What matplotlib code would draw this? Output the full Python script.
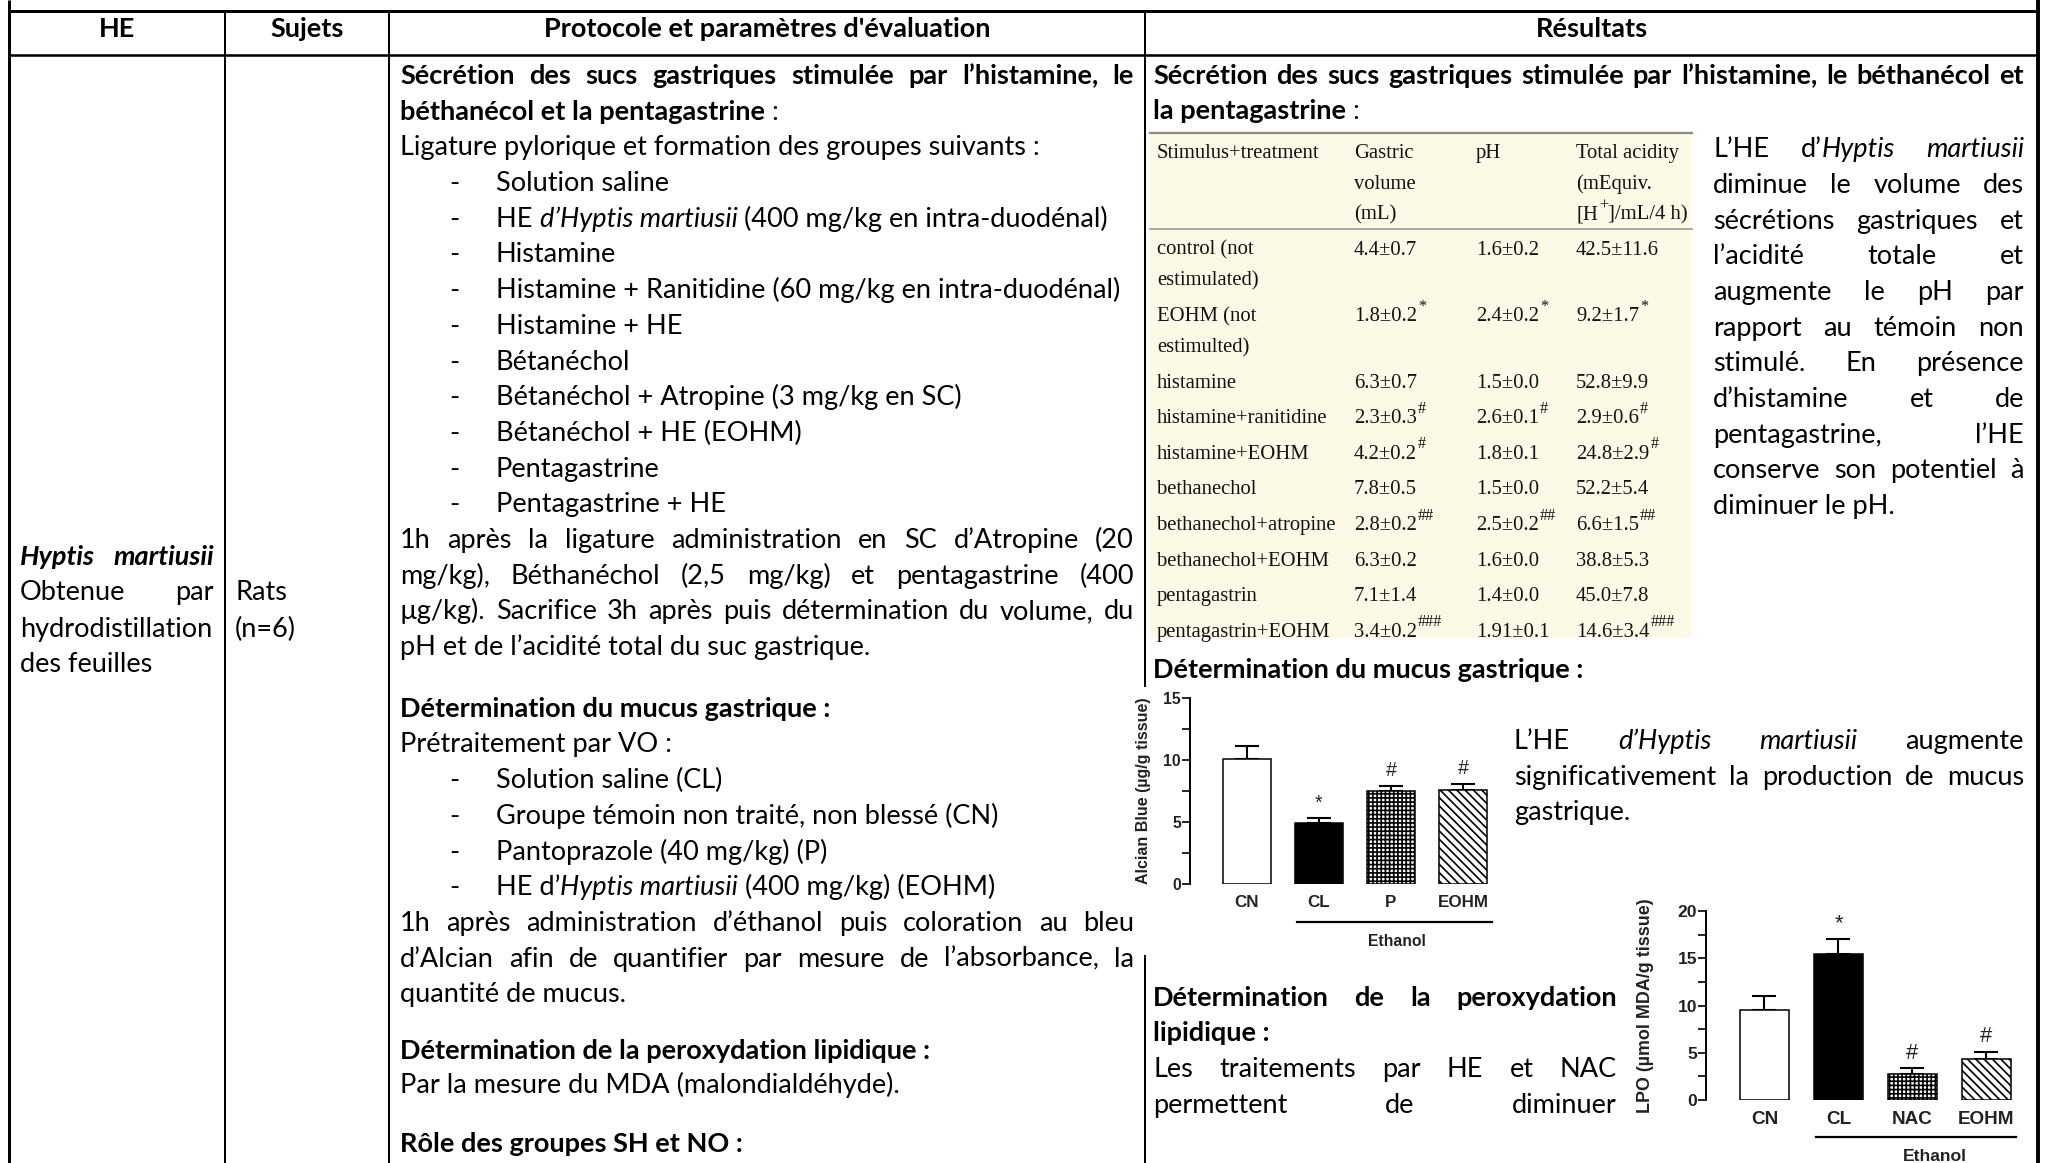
import numpy as np
import matplotlib
matplotlib.use("Agg")
import matplotlib.pyplot as plt
from matplotlib.transforms import blended_transform_factory

W, H = 2050, 1163
BODY = ["Lato", "DejaVu Sans"]
SERIF = ["Liberation Serif", "DejaVu Serif"]
CHART = ["Liberation Sans", "DejaVu Sans"]
plt.rcParams["hatch.linewidth"] = 1.2

# ---------------- data ----------------
column_headers = ["HE", "Sujets", "Protocole et paramètres d'évaluation", "Résultats"]
subjects = ["Rats", "(n=6)"]

stimulus_labels = ["control (not\nestimulated)", "EOHM (not\nestimulted)", "histamine",
                   "histamine+ranitidine", "histamine+EOHM", "bethanechol",
                   "bethanechol+atropine", "bethanechol+EOHM", "pentagastrin",
                   "pentagastrin+EOHM"]
gastric_volume = ["4.4±0.7", "1.8±0.2", "6.3±0.7", "2.3±0.3", "4.2±0.2",
                  "7.8±0.5", "2.8±0.2", "6.3±0.2", "7.1±1.4", "3.4±0.2"]
gastric_volume_sig = ["", "*", "", "#", "#", "", "##", "", "", "###"]
ph_values = ["1.6±0.2", "2.4±0.2", "1.5±0.0", "2.6±0.1", "1.8±0.1",
             "1.5±0.0", "2.5±0.2", "1.6±0.0", "1.4±0.0", "1.91±0.1"]
ph_sig = ["", "*", "", "#", "", "", "##", "", "", ""]
total_acidity = ["42.5±11.6", "9.2±1.7", "52.8±9.9", "2.9±0.6", "24.8±2.9",
                 "52.2±5.4", "6.6±1.5", "38.8±5.3", "45.0±7.8", "14.6±3.4"]
total_acidity_sig = ["", "*", "", "#", "#", "", "##", "", "", "###"]

mucus_groups = ["CN", "CL", "P", "EOHM"]
mucus_values = [10.1, 4.9, 7.5, 7.6]
mucus_errors = [1.0, 0.4, 0.4, 0.5]
mucus_marks = ["", "*", "#", "#"]

lpo_groups = ["CN", "CL", "NAC", "EOHM"]
lpo_values = [9.5, 15.4, 2.8, 4.3]
lpo_errors = [1.5, 1.6, 0.55, 0.8]
lpo_marks = ["", "*", "#", "#"]

# ---------------- canvas ----------------
fig = plt.figure(figsize=(W / 100, H / 100), dpi=100)
ax = fig.add_axes([0, 0, 1, 1])
ax.set_xlim(0, W)
ax.set_ylim(H, 0)
ax.axis("off")
R = fig.canvas.get_renderer()

STY = {"n": ("normal", "normal"), "b": ("bold", "normal"),
       "i": ("normal", "italic"), "bi": ("bold", "italic")}
_cache = {}


def tw(s, st="n", size=12, family=BODY):
    key = (s, st, round(size, 3), str(family))
    if key not in _cache:
        wt, sl = STY[st]
        a = ax.text(0, 0, s + "|", fontsize=size, family=family, weight=wt, style=sl)
        b = ax.text(0, 0, "|", fontsize=size, family=family, weight=wt, style=sl)
        _cache[key] = a.get_window_extent(R).width - b.get_window_extent(R).width
        a.remove()
        b.remove()
    return _cache[key]


SIZE = 10 * 626 / tw("Histamine + Ranitidine (60 mg/kg en intra-duodénal)", "n", 10)
TS = 10 * 172 / tw("histamine+ranitidine", "n", 10, SERIF)


def put(x, yc, s, st="n", size=None, family=BODY, ha="left", color="black"):
    size = size or SIZE
    wt, sl = STY[st]
    ax.text(x, yc + 0.30 * size * 100 / 72, s, fontsize=size, family=family,
            weight=wt, style=sl, ha=ha, va="baseline", color=color)


def words_of(segs):
    words = [[]]
    for s, st in segs:
        parts = s.split(" ")
        for k, p in enumerate(parts):
            if k > 0:
                words.append([])
            if p:
                words[-1].append((p, st))
    return [w for w in words if w]


def line(x0, yc, segs, x1=None, size=None):
    size = size or SIZE
    if x1 is None:
        x = x0
        for s, st in segs:
            put(x, yc, s, st, size)
            x += tw(s, st, size)
        return
    words = words_of(segs)
    ws = [sum(tw(p, st, size) for p, st in w) for w in words]
    gap = (x1 - x0 - sum(ws)) / (len(words) - 1) if len(words) > 1 else 0
    x = x0
    for w, wd in zip(words, ws):
        xx = x
        for p, st in w:
            put(xx, yc, p, st, size)
            xx += tw(p, st, size)
        x += wd + gap


def block(lines, x0, x1, y0, pitch=35.7, dash_x=None, item_x=None):
    y = y0
    for kind, segs in lines:
        if kind == "j":
            line(x0, y, segs, x1)
        elif kind == "l":
            line(x0, y, segs)
        elif kind == "d":
            put(dash_x, y, "-", "n")
            line(item_x, y, segs)
        y += pitch


# ---------------- table frame ----------------
OUT = 3 * 0.72
INN = 2 * 0.72
ax.plot([9, 9], [0, H], color="black", lw=OUT, solid_capstyle="butt")
ax.plot([2038, 2038], [0, H], color="black", lw=OUT * 1.3, solid_capstyle="butt")
ax.plot([9, 2038], [11, 11], color="black", lw=OUT)
ax.plot([9, 2038], [55, 55], color="black", lw=OUT * 0.85)
for xv in (225, 389):
    ax.plot([xv, xv], [11, H], color="black", lw=INN, solid_capstyle="butt")
ax.plot([1145, 1145], [11, 687], color="black", lw=INN, solid_capstyle="butt")
ax.plot([1145, 1145], [955, H], color="black", lw=INN, solid_capstyle="butt")

for xc, lab in zip([117, 307, 767, 1592], column_headers):
    put(xc, 29, lab, "b", ha="center")

# ---------------- HE / subjects column ----------------
line(20, 557, [("Hyptis martiusii", "bi")], 214)
line(20, 592, [("Obtenue par", "n")], 214)
line(20, 629, [("hydrodistillation", "n")])
line(20, 664, [("des feuilles", "n")])
line(235, 592, [(subjects[0], "n")])
line(235, 629, [(subjects[1], "n")])

# ---------------- protocol column ----------------
P0, P1 = 400, 1134
prot1 = [
    ("j", [("Sécrétion des sucs gastriques stimulée par l’histamine, le", "b")]),
    ("l", [("béthanécol et la pentagastrine", "b"), (" :", "n")]),
    ("l", [("Ligature pylorique et formation des groupes suivants :", "n")]),
    ("d", [("Solution saline", "n")]),
    ("d", [("HE ", "n"), ("d’Hyptis martiusii", "i"), (" (400 mg/kg en intra-duodénal)", "n")]),
    ("d", [("Histamine", "n")]),
    ("d", [("Histamine + Ranitidine (60 mg/kg en intra-duodénal)", "n")]),
    ("d", [("Histamine + HE", "n")]),
    ("d", [("Bétanéchol", "n")]),
    ("d", [("Bétanéchol + Atropine (3 mg/kg en SC)", "n")]),
    ("d", [("Bétanéchol + HE (EOHM)", "n")]),
    ("d", [("Pentagastrine", "n")]),
    ("d", [("Pentagastrine + HE", "n")]),
    ("j", [("1h après la ligature administration en SC d’Atropine (20", "n")]),
    ("j", [("mg/kg), Béthanéchol (2,5 mg/kg) et pentagastrine (400", "n")]),
    ("j", [("µg/kg). Sacrifice 3h après puis détermination du volume, du", "n")]),
    ("l", [("pH et de l’acidité total du suc gastrique.", "n")]),
]
block(prot1, P0, P1, 75.8, dash_x=449, item_x=496)
prot2 = [
    ("l", [("Détermination du mucus gastrique :", "b")]),
    ("l", [("Prétraitement par VO :", "n")]),
    ("d", [("Solution saline (CL)", "n")]),
    ("d", [("Groupe témoin non traité, non blessé (CN)", "n")]),
    ("d", [("Pantoprazole (40 mg/kg) (P)", "n")]),
    ("d", [("HE d’", "n"), ("Hyptis martiusii", "i"), (" (400 mg/kg) (EOHM)", "n")]),
    ("j", [("1h après administration d’éthanol puis coloration au bleu", "n")]),
    ("j", [("d’Alcian afin de quantifier par mesure de l’absorbance, la", "n")]),
    ("l", [("quantité de mucus.", "n")]),
]
block(prot2, P0, P1, 708.6, dash_x=449, item_x=496)
prot3 = [
    ("l", [("Détermination de la peroxydation lipidique :", "b")]),
    ("l", [("Par la mesure du MDA (malondialdéhyde).", "n")]),
]
block(prot3, P0, P1, 1051.2, pitch=34)
line(P0, 1144, [("Rôle des groupes SH et NO :", "b")])

# ---------------- results column ----------------
R0, R1 = 1153, 2024
line(R0, 75.8, [("Sécrétion des sucs gastriques stimulée par l’histamine, le béthanécol et", "b")], R1)
line(R0, 111.1, [("la pentagastrine", "b"), (" :", "n")])
res1 = [
    ("j", [("L’HE d’", "n"), ("Hyptis martiusii", "i")]),
    ("j", [("diminue le volume des", "n")]),
    ("j", [("sécrétions gastriques et", "n")]),
    ("j", [("l’acidité totale et", "n")]),
    ("j", [("augmente le pH par", "n")]),
    ("j", [("rapport au témoin non", "n")]),
    ("j", [("stimulé. En présence", "n")]),
    ("j", [("d’histamine et de", "n")]),
    ("j", [("pentagastrine, l’HE", "n")]),
    ("j", [("conserve son potentiel à", "n")]),
    ("l", [("diminuer le pH.", "n")]),
]
block(res1, 1713, R1, 149)
line(R0, 669.4, [("Détermination du mucus gastrique :", "b")])
res2 = [
    ("j", [("L’HE ", "n"), ("d’Hyptis martiusii", "i"), (" augmente", "n")]),
    ("j", [("significativement la production de mucus", "n")]),
    ("l", [("gastrique.", "n")]),
]
block(res2, 1514, R1, 741.3, pitch=35.3)
res3 = [
    ("j", [("Détermination de la peroxydation", "b")]),
    ("l", [("lipidique :", "b")]),
    ("j", [("Les traitements par HE et NAC", "n")]),
    ("j", [("permettent de diminuer", "n")]),
]
block(res3, R0, 1617, 997.5, pitch=35.8)

# ---------------- embedded table ----------------
TX = [1157, 1354, 1476, 1576]
ax.add_patch(plt.Rectangle((1150, 131), 542, 507, facecolor="#fcf9e6", edgecolor="none", zorder=0))
ax.plot([1150, 1692], [133, 133], color="#8a8a8a", lw=2.2 * 0.72)
ax.plot([1150, 1692], [229, 229], color="#a0a0a0", lw=1.8 * 0.72)


def serif(x, yc, pieces):
    """pieces: list of (text, is_superscript)"""
    em = TS * 100 / 72
    base = yc + 0.33 * em
    for s, sup in pieces:
        if sup:
            ax.text(x + 1, base - 0.5 * em, s, fontsize=TS * 0.78, family=SERIF,
                    va="baseline", color="#111111")
            x += tw(s, "n", TS * 0.78, SERIF) + 1
        else:
            ax.text(x, base, s, fontsize=TS, family=SERIF, va="baseline", color="#111111")
            x += tw(s, "n", TS, SERIF)


serif(TX[0], 151, [("Stimulus+treatment", False)])
serif(TX[1], 151, [("Gastric", False)])
serif(TX[1], 182, [("volume", False)])
serif(TX[1], 213, [("(mL)", False)])
serif(TX[2], 151, [("pH", False)])
serif(TX[3], 151, [("Total acidity", False)])
serif(TX[3], 182, [("(mEquiv.", False)])
serif(TX[3], 213, [("[H", False), ("+", True), ("]/mL/4 h)", False)])

y = 248
for i, lab in enumerate(stimulus_labels):
    parts = lab.split("\n")
    for k, p in enumerate(parts):
        serif(TX[0], y + k * 30.8, [(p, False)])
    serif(TX[1], y, [(gastric_volume[i], False), (gastric_volume_sig[i], True)])
    serif(TX[2], y, [(ph_values[i], False), (ph_sig[i], True)])
    serif(TX[3], y, [(total_acidity[i], False), (total_acidity_sig[i], True)])
    y += 35.6 + 30.8 * (len(parts) - 1)


# ---------------- bar charts ----------------
def bar_chart(groups, values, errors, marks, spine_px, unit_px, zero_px, top_px,
              ymax, ylabel, fs, mark_hatch, eth_line, eth_label, ylab_x):
    n = len(groups)
    x0, x1 = -0.79, n - 0.5
    axc = fig.add_axes([spine_px / W, (H - zero_px) / H,
                        (x1 - x0) * unit_px / W, (zero_px - top_px) / H])
    axc.set_facecolor("none")
    xs = np.arange(n)
    bars = axc.bar(xs, values, width=0.67, color="white", edgecolor="black",
                   linewidth=1.1, zorder=2)
    bars[1].set_facecolor("black")
    bars[2].set_hatch(mark_hatch)
    bars[3].set_hatch("\\\\\\\\")
    axc.errorbar(xs, values, yerr=[np.zeros(n), errors], fmt="none", ecolor="black",
                 elinewidth=1.5, capsize=8.5, capthick=1.5, zorder=1)
    for i, m in enumerate(marks):
        if m:
            axc.annotate(m, (xs[i], values[i] + errors[i]), xytext=(0, 7),
                         textcoords="offset points", ha="center", va="baseline",
                         fontsize=fs * 1.25, family=CHART, color="#222222")
    axc.set_xlim(x0, x1)
    axc.set_ylim(0, ymax)
    axc.set_yticks(np.arange(0, ymax + 0.1, 5))
    axc.set_yticks(np.arange(0, ymax + 0.1, 2.5), minor=True)
    axc.set_xticks(xs)
    axc.set_xticklabels(groups, fontsize=fs * 1.08, family=CHART, weight="bold", color="#222222")
    for t in axc.get_yticklabels():
        t.set_fontsize(fs)
        t.set_family(CHART)
        t.set_weight("bold")
        t.set_color("#222222")
    axc.tick_params(axis="y", which="both", direction="out", length=5.5, width=1.2, pad=1)
    axc.tick_params(axis="x", length=0, pad=8)
    for s in ("top", "right", "bottom"):
        axc.spines[s].set_visible(False)
    axc.spines["left"].set_linewidth(1.4)
    axc.set_ylabel(ylabel, fontsize=fs * 1.02, family=CHART, weight="bold", color="#222222")
    axc.yaxis.set_label_coords(ylab_x, 0.5)
    tr = blended_transform_factory(axc.transData, axc.transAxes)
    axc.plot([1 - 0.3, n - 1 + 0.4], [eth_line, eth_line], transform=tr, clip_on=False,
             color="black", lw=1.6)
    axc.text(eth_label, eth_line - 0.105, "Ethanol", transform=tr, ha="center", va="center",
             fontsize=fs, family=CHART, weight="bold", color="#222222")
    return axc


bar_chart(mucus_groups, mucus_values, mucus_errors, mucus_marks, 1190, 72, 884, 698,
          15, "Alcian Blue (µg/g tissue)", 11.3, "++++", -0.204, 2.08, -0.125)
bar_chart(lpo_groups, lpo_values, lpo_errors, lpo_marks, 1706, 74, 1100, 911,
          20, "LPO (µmol MDA/g tissue)", 12.6, "++++", -0.196, 2.3, -0.165)

fig.savefig("out.png", dpi=100)
